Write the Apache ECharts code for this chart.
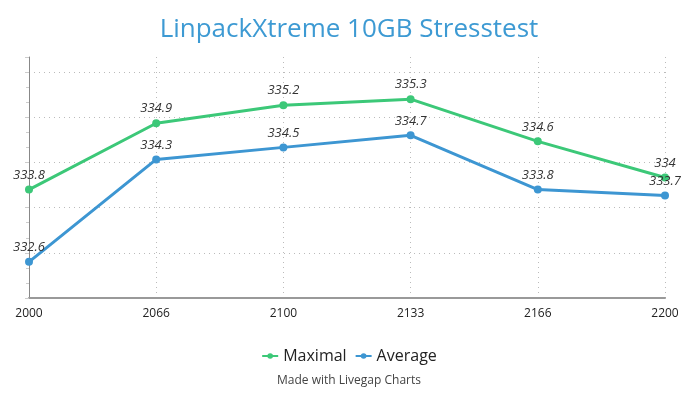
<!DOCTYPE html>
<html>
<head>
<meta charset="utf-8">
<script src="https://cdn.jsdelivr.net/npm/echarts@6/dist/echarts.min.js"></script>
<style>
  html, body { margin: 0; padding: 0; background: #fff; }
  #chart { width: 698px; height: 399px; }
</style>
</head>
<body>
<div id="chart"></div>
<script>
var categories = ['2000', '2066', '2100', '2133', '2166', '2200'];
var maximal = [333.8, 334.9, 335.2, 335.3, 334.6, 334];
var average = [332.6, 334.3, 334.5, 334.7, 333.8, 333.7];

var green = '#3cc878';
var blue = '#3d96d2';
var gridColor = '#bbbbbb';

var myChart = echarts.init(document.getElementById('chart'));

var labelStyle = {
    show: true,
    position: 'top',
    distance: 4,
    fontStyle: 'italic',
    fontSize: 13,
    color: '#333',
    fontFamily: 'Open Sans'
};

var option = {
    animation: false,
    textStyle: { fontFamily: 'Open Sans' },
    title: {
        text: 'LinpackXtreme 10GB Stresstest',
        left: 'center',
        top: 12,
        textStyle: {
            fontFamily: 'Open Sans',
            fontWeight: 'normal',
            fontSize: 26,
            color: '#3d9ad3'
        }
    },
    legend: {
        bottom: 30,
        left: 'center',
        itemWidth: 16,
        itemHeight: 7,
        itemGap: 8,
        textStyle: { fontSize: 16, color: '#222', fontFamily: 'Open Sans' },
        data: ['Maximal', 'Average']
    },
    graphic: [{
        type: 'text',
        left: 'center',
        top: 375,
        style: {
            text: 'Made with Livegap Charts',
            fontSize: 12,
            fill: '#444',
            fontFamily: 'Open Sans'
        }
    }],
    grid: { left: 29, right: 33, top: 57, bottom: 101 },
    xAxis: {
        type: 'category',
        data: categories,
        boundaryGap: false,
        axisLine: { lineStyle: { color: '#999', width: 2 } },
        axisTick: { show: false },
        axisLabel: { color: '#222', fontSize: 12, margin: 10 },
        splitLine: {
            show: true,
            lineStyle: { color: gridColor, type: [1, 4], width: 1 }
        }
    },
    yAxis: {
        type: 'value',
        min: 332,
        max: 336,
        interval: 0.75,
        axisLabel: { show: false },
        axisLine: { show: true, lineStyle: { color: '#888', width: 1 } },
        axisTick: { show: true, length: 4, lineStyle: { color: '#ccc' } },
        minorTick: { show: true, splitNumber: 3, length: 3, lineStyle: { color: '#ccc' } },
        splitLine: {
            show: true,
            lineStyle: {
                color: [gridColor, gridColor, gridColor, gridColor, gridColor, gridColor, 'transparent'],
                type: [1, 4],
                width: 1
            }
        }
    },
    series: [
        {
            name: 'Maximal',
            type: 'line',
            data: maximal,
            symbol: 'circle',
            symbolSize: 8,
            lineStyle: { width: 3, color: green },
            itemStyle: { color: green },
            label: labelStyle
        },
        {
            name: 'Average',
            type: 'line',
            data: average,
            symbol: 'circle',
            symbolSize: 8,
            lineStyle: { width: 3, color: blue },
            itemStyle: { color: blue },
            label: labelStyle
        }
    ]
};

myChart.setOption(option);
window.addEventListener('resize', function () {
    myChart.resize();
});
</script>
</body>
</html>
